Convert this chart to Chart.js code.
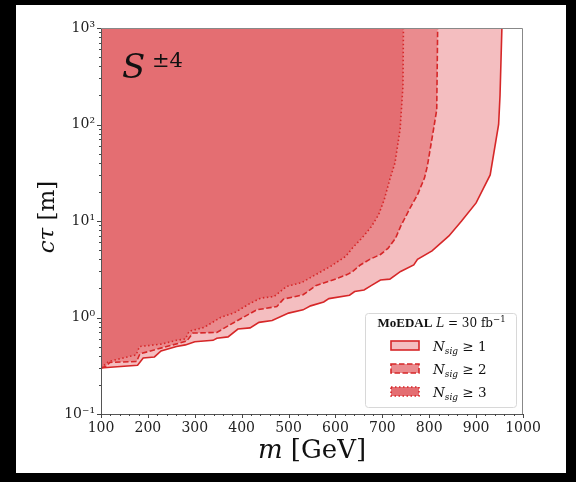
<!DOCTYPE html>
<html>
<head>
<meta charset="utf-8">
<script src="https://cdn.jsdelivr.net/npm/chart.js@4.4.1/dist/chart.umd.min.js"></script>
<style>
    html, body { margin: 0; padding: 0; background: #000; }
    canvas { display: block; }
</style>
</head>
<body>
<canvas id="limitChart" width="576" height="482"></canvas>
<script>
// N_sig >= 1 (solid)
const massSig1 = [100, 120, 178, 190, 214, 228, 261, 280, 300, 339, 347, 371, 392, 418, 437, 465, 500, 531, 547, 575, 586, 630, 641, 661, 677, 696, 716, 739, 767, 775, 806, 842, 869, 900, 930, 948, 951, 955];
const ctauSig1 = [0.30, 0.305, 0.32, 0.38, 0.39, 0.45, 0.50, 0.52, 0.56, 0.58, 0.61, 0.63, 0.76, 0.78, 0.89, 0.93, 1.11, 1.20, 1.32, 1.45, 1.57, 1.70, 1.86, 1.93, 2.15, 2.45, 2.5, 3.0, 3.5, 4.0, 4.9, 7.0, 10.0, 15.4, 30, 100, 200, 1000];

// N_sig >= 2 (dashed)
const massSig2 = [100, 110, 119, 176, 183, 240, 283, 296, 347, 375, 432, 475, 489, 531, 559, 586, 606, 626, 637, 653, 673, 696, 712, 728, 739, 759, 775, 790, 796, 809, 816, 818];
const ctauSig2 = [0.30, 0.31, 0.343, 0.35, 0.42, 0.50, 0.57, 0.69, 0.70, 0.84, 1.2, 1.30, 1.55, 1.72, 2.15, 2.37, 2.56, 2.8, 3.0, 3.5, 4.0, 4.5, 5.2, 6.6, 8.8, 13.6, 18.7, 28, 37, 88, 142, 1000];

// N_sig >= 3 (dotted)
const massSig3 = [100, 116, 175, 182, 229, 261, 280, 288, 320, 355, 386, 418, 441, 469, 496, 528, 559, 590, 622, 637, 657, 677, 692, 704, 716, 727, 738, 744, 745];
const ctauSig3 = [0.30, 0.35, 0.41, 0.50, 0.53, 0.58, 0.60, 0.72, 0.79, 1.0, 1.13, 1.4, 1.59, 1.65, 2.1, 2.3, 2.8, 3.4, 4.3, 5.3, 6.7, 8.8, 11.6, 16.6, 27, 40, 90, 250, 1000];

const xTicks = [100, 200, 300, 400, 500, 600, 700, 800, 900, 1000];
const yTicks = [0.1, 1, 10, 100, 1000];
const yTickLabels = ["10⁻¹", "10⁰", "10¹", "10²", "10³"];
const legendLabels = ["1", "2", "3"];

const RED = "#d62728";
const SERIF = "'DejaVu Serif', serif";

const toPoints = (xs, ys) => xs.map((x, i) => ({x: x, y: ys[i]}));

const limitDataset = (label, xs, ys, fillColor, dash) => ({
    label: label,
    data: toPoints(xs, ys),
    borderColor: RED,
    backgroundColor: fillColor,
    borderWidth: 1.6,
    borderDash: dash,
    fill: "end",
    tension: 0,
    pointRadius: 0,
});

const drawRich = (ctx, parts, x, y) => {
    // parts: [text, font, dy]
    let cx = x;
    parts.forEach(([text, font, dy]) => {
        ctx.font = font;
        ctx.fillText(text, cx, y + (dy || 0));
        cx += ctx.measureText(text).width;
    });
    return cx - x;
};

const richWidth = (ctx, parts) => parts.reduce((w, [text, font]) => {
    ctx.font = font;
    return w + ctx.measureText(text).width;
}, 0);

const decorations = {
    id: "decorations",
    beforeDraw: (chart) => {
        const {ctx} = chart;
        ctx.save();
        ctx.fillStyle = "#000";
        ctx.fillRect(0, 0, chart.width, chart.height);
        ctx.fillStyle = "#fff";
        ctx.fillRect(16, 5, 550, 468);
        ctx.restore();
    },
    afterDraw: (chart) => {
        const {ctx, chartArea: a, scales} = chart;
        const xs = scales.x, ys = scales.y;
        ctx.save();

        // spines
        ctx.lineWidth = 1;
        ctx.strokeStyle = "#555";
        ctx.beginPath();
        ctx.moveTo(a.left + 0.5, a.top);
        ctx.lineTo(a.left + 0.5, a.bottom + 0.5);
        ctx.lineTo(a.right, a.bottom + 0.5);
        ctx.stroke();
        ctx.strokeStyle = "#888";
        ctx.beginPath();
        ctx.moveTo(a.left, a.top + 0.5);
        ctx.lineTo(a.right - 0.5, a.top + 0.5);
        ctx.lineTo(a.right - 0.5, a.bottom);
        ctx.stroke();

        // ticks
        ctx.strokeStyle = "#444";
        ctx.beginPath();
        for (let m = 100; m <= 1000; m += 20) {
            const px = Math.round(xs.getPixelForValue(m)) + 0.5;
            const len = m % 100 === 0 ? 4 : 2;
            ctx.moveTo(px, a.bottom);
            ctx.lineTo(px, a.bottom + len);
        }
        for (let e = -1; e <= 3; e++) {
            for (let k = 1; k <= 9; k++) {
                const v = k * Math.pow(10, e);
                if (v > 1000) break;
                const py = Math.round(ys.getPixelForValue(v)) + 0.5;
                const len = k === 1 ? 4 : 2;
                ctx.moveTo(a.left, py);
                ctx.lineTo(a.left - len, py);
            }
        }
        ctx.stroke();

        ctx.fillStyle = "#111";
        ctx.textBaseline = "alphabetic";

        // x title
        const xParts = [["m", "italic 26px " + SERIF], [" [GeV]", "26px " + SERIF]];
        const xw = richWidth(ctx, xParts);
        drawRich(ctx, xParts, (a.left + a.right) / 2 - xw / 2, 458);

        // y title
        const yParts = [["cτ", "italic 23px " + SERIF], [" [m]", "23px " + SERIF]];
        const yw = richWidth(ctx, yParts);
        ctx.save();
        ctx.translate(54, (a.top + a.bottom) / 2 - 4);
        ctx.rotate(-Math.PI / 2);
        drawRich(ctx, yParts, -yw / 2, 0);
        ctx.restore();

        // particle label
        drawRich(ctx, [["S", "italic 34px " + SERIF]], 122, 78);
        drawRich(ctx, [["±4", "21px " + SERIF]], 152, 67);

        // legend
        const bx = 365, by = 313, bw = 151, bh = 94;
        ctx.fillStyle = "rgba(255,255,255,0.85)";
        ctx.strokeStyle = "#d8d8d8";
        ctx.lineWidth = 1;
        ctx.beginPath();
        ctx.roundRect(bx + 0.5, by + 0.5, bw, bh, 3);
        ctx.fill();
        ctx.stroke();

        ctx.fillStyle = "#111";
        const tParts = [
            ["MoEDAL", "bold 13px 'Liberation Serif', serif"],
            [" ", "12px " + SERIF],
            ["L", "italic 12px " + SERIF],
            [" = 30 fb", "12px " + SERIF],
            ["−1", "8.5px " + SERIF, -5],
        ];
        const tw = richWidth(ctx, tParts);
        drawRich(ctx, tParts, bx + bw / 2 - tw / 2 + 1, 327);

        const metas = chart.data.datasets;
        const order = [2, 1, 0];
        order.forEach((di, i) => {
            const ds = metas[di];
            const cy = 345.5 + i * 23;
            ctx.fillStyle = ds.backgroundColor;
            ctx.fillRect(391, cy - 4.5, 28, 9);
            ctx.strokeStyle = RED;
            ctx.lineWidth = 1.6;
            ctx.setLineDash(ds.borderDash || []);
            ctx.strokeRect(391, cy - 4.5, 28, 9);
            ctx.setLineDash([]);
            ctx.fillStyle = "#111";
            drawRich(ctx, [
                ["N", "italic 13.5px " + SERIF],
                ["sig", "italic 9px " + SERIF, 3],
                [" ≥ " + legendLabels[i], "13.5px " + SERIF],
            ], 433, cy + 5);
        });

        ctx.restore();
    },
};

new Chart(document.getElementById("limitChart"), {
    type: "line",
    data: {
        datasets: [
            limitDataset("N_sig >= 3", massSig3, ctauSig3, "#e46e72", [1.5, 2.5]),
            limitDataset("N_sig >= 2", massSig2, ctauSig2, "#ea8b8e", [5.5, 2.5]),
            limitDataset("N_sig >= 1", massSig1, ctauSig1, "#f4bec0", []),
        ],
    },
    plugins: [decorations],
    options: {
        responsive: false,
        animation: false,
        layout: {
            padding: {left: 0, top: 28, right: 53, bottom: 0},
        },
        plugins: {
            legend: {display: false},
            tooltip: {enabled: false},
            filler: {drawTime: "beforeDatasetsDraw"},
        },
        scales: {
            x: {
                type: "linear",
                min: 100,
                max: 1000,
                afterFit: (scale) => { scale.height = 68; },
                afterBuildTicks: (scale) => { scale.ticks = xTicks.map((v) => ({value: v})); },
                grid: {display: false, drawTicks: false, tickLength: 0},
                border: {display: false},
                ticks: {
                    maxRotation: 0,
                    autoSkip: false,
                    padding: 6,
                    color: "#222",
                    font: {family: "DejaVu Serif", size: 14},
                    callback: (v) => String(v),
                },
            },
            y: {
                type: "logarithmic",
                min: 0.1,
                max: 1000,
                afterFit: (scale) => { scale.width = 101; },
                afterBuildTicks: (scale) => { scale.ticks = yTicks.map((v) => ({value: v})); },
                grid: {display: false, drawTicks: false, tickLength: 0},
                border: {display: false},
                ticks: {
                    autoSkip: false,
                    padding: 6,
                    color: "#222",
                    font: {family: "DejaVu Serif", size: 14},
                    callback: (v) => yTickLabels[yTicks.indexOf(v)],
                },
            },
        },
    },
});
</script>
</body>
</html>
